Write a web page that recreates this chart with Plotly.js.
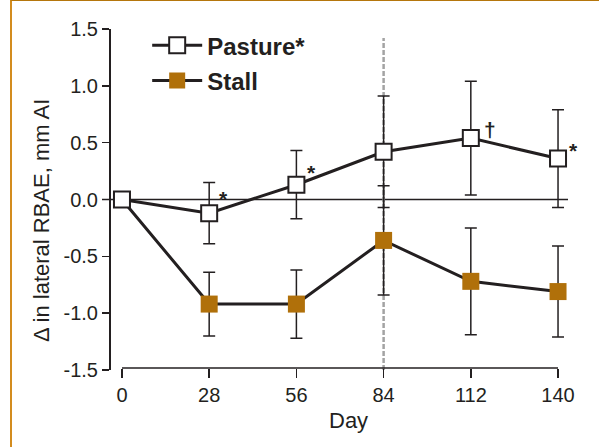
<!DOCTYPE html>
<html>
<head>
<meta charset="utf-8">
<script src="https://cdn.plot.ly/plotly-3.0.1.min.js"></script>
<style>
  html, body { margin: 0; padding: 0; background: #ffffff; }
  #wrap { position: relative; width: 599px; height: 447px; overflow: hidden; }
  #chart { width: 599px; height: 447px; }
  #frame { position: absolute; left: 10px; top: 0; width: 600px; height: 460px;
           border-top: 1px solid #b5760c; border-left: 2px solid #d38c1e;
           pointer-events: none; box-sizing: border-box; }
</style>
</head>
<body>
<div id="wrap">
  <div id="chart"></div>
  <div id="frame"></div>
</div>
<script>
// ---- data ----
var days = [0, 28, 56, 84, 112, 140];
var pastureMean = [0, -0.12, 0.13, 0.42, 0.54, 0.36];
var pastureErr  = [null, 0.27, 0.30, 0.49, 0.50, 0.43];
var stallMean   = [0, -0.92, -0.92, -0.36, -0.72, -0.81];
var stallErr    = [null, 0.28, 0.30, 0.48, 0.47, 0.40];
var seriesNames = ['Pasture*', 'Stall'];
var xTickVals = [0, 28, 56, 84, 112, 140];
var xTickText = ['0', '28', '56', '84', '112', '140'];
var yTickVals = [-1.5, -1.0, -0.5, 0.0, 0.5, 1.0, 1.5];
var yTickText = ['-1.5', '-1.0', '-0.5', '0.0', '0.5', '1.0', '1.5'];
var sigDays = [28, 56, 112, 140];
var sigSymbols = ['*', '*', '\u2020', '*'];
var markerDay = 84;
var xTitle = 'Day';
var yTitle = '\u0394 in lateral RBAE, mm AI';

var ink = '#231f20';
var stallColor = '#b0700a';
var fontFam = 'Liberation Sans, Arial, Helvetica, sans-serif';

var stall = {
  x: days, y: stallMean, name: seriesNames[1], type: 'scatter', mode: 'lines+markers',
  legendgroup: 'b', legendrank: 2, cliponaxis: false,
  line: { color: ink, width: 3 },
  marker: { symbol: 'square', size: 17, color: stallColor, line: { width: 0 } },
  error_y: { type: 'data', array: stallErr, visible: true, color: ink, thickness: 1.5, width: 6 }
};
var pasture = {
  x: days, y: pastureMean, name: seriesNames[0], type: 'scatter', mode: 'lines+markers',
  legendgroup: 'a', legendrank: 1, cliponaxis: false,
  line: { color: ink, width: 3 },
  marker: { symbol: 'square', size: 16, color: '#ffffff', line: { color: ink, width: 2 } },
  error_y: { type: 'data', array: pastureErr, visible: true, color: ink, thickness: 1.5, width: 6 }
};

// significance marks, offset (px) from the pasture point
var sigShift = { 28: [14, 15], 56: [15, 12], 112: [19, 9], 140: [15, 8] };
var annotations = sigDays.map(function (d, i) {
  var idx = days.indexOf(d);
  return {
    x: d, y: pastureMean[idx], xref: 'x', yref: 'y', text: sigSymbols[i], showarrow: false,
    xshift: sigShift[d][0], yshift: sigShift[d][1],
    font: { family: fontFam, size: 21, color: ink, weight: 'bold' }
  };
});
annotations.push({
  x: 0.5192, y: -0.148, xref: 'paper', yref: 'paper', text: xTitle, showarrow: false,
  xanchor: 'center', yanchor: 'middle',
  font: { family: fontFam, size: 22, color: ink }
});
annotations.push({
  x: -0.1223, y: 0.438, xref: 'paper', yref: 'paper', text: yTitle, showarrow: false,
  textangle: -90, xanchor: 'center', yanchor: 'middle',
  font: { family: fontFam, size: 22, color: ink }
});

var xAxisPos = 0.006;
var layout = {
  width: 599, height: 447,
  margin: { l: 100, r: 20, t: 29, b: 77, pad: 0 },
  paper_bgcolor: '#ffffff', plot_bgcolor: 'rgba(0,0,0,0)',
  showlegend: true,
  legend: {
    x: 0.0985, y: 1.017, xanchor: 'left', yanchor: 'top',
    bgcolor: 'rgba(0,0,0,0)', borderwidth: 0,
    font: { family: fontFam, size: 24, color: ink, weight: 'bold' },
    itemwidth: 50, tracegroupgap: 1, traceorder: 'grouped'
  },
  xaxis: {
    domain: [0.01336, 0.98873], range: [-5, 145], anchor: 'free', position: xAxisPos,
    tickmode: 'array', tickvals: xTickVals, ticktext: xTickText,
    ticks: 'outside', ticklen: 9, tickwidth: 1.5, tickcolor: ink,
    showline: false, showgrid: false, zeroline: false,
    tickfont: { family: fontFam, size: 20, color: ink }
  },
  yaxis: {
    domain: [0, 1], range: [-1.5, 1.5], anchor: 'free', position: 0.01879,
    tickmode: 'array', tickvals: yTickVals, ticktext: yTickText,
    ticks: 'outside', ticklen: 7, tickwidth: 1.5, tickcolor: ink,
    showline: true, linecolor: ink, linewidth: 1.5,
    showgrid: false, zeroline: false,
    tickfont: { family: fontFam, size: 20, color: ink }
  },
  shapes: [
    // x axis line spanning the day range only
    { type: 'line', xref: 'x', yref: 'paper',
      x0: xTickVals[0], x1: xTickVals[xTickVals.length - 1], y0: xAxisPos, y1: xAxisPos,
      line: { color: ink, width: 1.5 }, layer: 'above' },
    { type: 'line', xref: 'paper', yref: 'y', x0: 0.00418, x1: 0.97704, y0: 0, y1: 0,
      line: { color: ink, width: 1.5 }, layer: 'below' },
    { type: 'line', xref: 'x', yref: 'y', x0: markerDay, x1: markerDay, y0: -1.5, y1: 1.42,
      line: { color: '#a3a3a3', width: 2.5, dash: '5px,2px' }, layer: 'below' }
  ],
  annotations: annotations,
  hovermode: false
};

Plotly.newPlot('chart', [stall, pasture], layout, { displayModeBar: false, staticPlot: true });
</script>
</body>
</html>
